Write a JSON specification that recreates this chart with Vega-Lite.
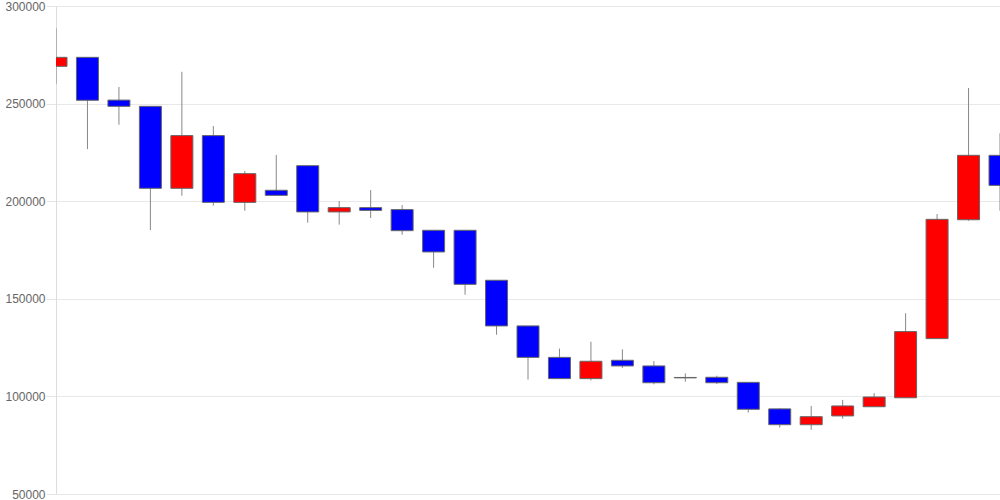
{
  "$schema": "https://vega.github.io/schema/vega-lite/v6.json",
  "width": 944,
  "height": 488,
  "autosize": "none",
  "padding": {"left": 56, "top": 6, "right": 0, "bottom": 6},
  "background": "white",
  "config": {"view": {"stroke": null}},
  "data": {"values": [
    {"i": 1, "open": 269100, "close": 273700, "high": 288600, "low": 260000},
    {"i": 2, "open": 273700, "close": 251700, "high": 273700, "low": 226700},
    {"i": 3, "open": 251800, "close": 248600, "high": 258500, "low": 239200},
    {"i": 4, "open": 248600, "close": 206600, "high": 248600, "low": 185200},
    {"i": 5, "open": 206600, "close": 233600, "high": 266300, "low": 202800},
    {"i": 6, "open": 233600, "close": 199400, "high": 238500, "low": 197700},
    {"i": 7, "open": 199400, "close": 214100, "high": 215500, "low": 195100},
    {"i": 8, "open": 205600, "close": 203000, "high": 223700, "low": 203000},
    {"i": 9, "open": 218200, "close": 194500, "high": 218200, "low": 189000},
    {"i": 10, "open": 194500, "close": 196700, "high": 200100, "low": 188000},
    {"i": 11, "open": 196700, "close": 195300, "high": 205700, "low": 191400},
    {"i": 12, "open": 195700, "close": 184900, "high": 198000, "low": 182800},
    {"i": 13, "open": 185100, "close": 174000, "high": 185100, "low": 165900},
    {"i": 14, "open": 185100, "close": 157400, "high": 185100, "low": 152100},
    {"i": 15, "open": 159500, "close": 136100, "high": 159500, "low": 131600},
    {"i": 16, "open": 136100, "close": 120000, "high": 136100, "low": 108600},
    {"i": 17, "open": 120000, "close": 109100, "high": 124500, "low": 109100},
    {"i": 18, "open": 109100, "close": 118000, "high": 128000, "low": 108200},
    {"i": 19, "open": 118500, "close": 115600, "high": 124100, "low": 114600},
    {"i": 20, "open": 115600, "close": 107000, "high": 118100, "low": 106200},
    {"i": 21, "open": 109700, "close": 109500, "high": 111800, "low": 107500},
    {"i": 22, "open": 109800, "close": 107000, "high": 110600, "low": 106400},
    {"i": 23, "open": 107200, "close": 93400, "high": 107200, "low": 91700},
    {"i": 24, "open": 93600, "close": 85500, "high": 93900, "low": 84000},
    {"i": 25, "open": 85500, "close": 89600, "high": 95100, "low": 82900},
    {"i": 26, "open": 90000, "close": 95100, "high": 98200, "low": 88600},
    {"i": 27, "open": 94700, "close": 99700, "high": 101700, "low": 94700},
    {"i": 28, "open": 99300, "close": 133200, "high": 142600, "low": 99300},
    {"i": 29, "open": 129600, "close": 190700, "high": 193400, "low": 129600},
    {"i": 30, "open": 190500, "close": 223500, "high": 258000, "low": 190000},
    {"i": 31, "open": 223500, "close": 208100, "high": 234800, "low": 195100}
  ]},
  "encoding": {
    "x": {"field": "i", "type": "quantitative", "scale": {"domain": [1, 31], "nice": false, "zero": false, "padding": 0}, "axis": null}
  },
  "layer": [
    {
      "mark": {"type": "rule", "color": "#888888", "strokeWidth": 1, "clip": true},
      "encoding": {
        "y": {"field": "low", "type": "quantitative",
          "scale": {"domain": [50000, 300000], "nice": false, "zero": false},
          "axis": {"title": null, "values": [50000, 100000, 150000, 200000, 250000, 300000], "format": "d",
            "labelFont": "Liberation Sans", "labelFontSize": 12, "labelColor": "#666666",
            "tickColor": "#e5e5e5", "tickSize": 10, "labelPadding": 1,
            "domainColor": "#dddddd", "gridColor": "#e8e8e8", "grid": true, "labelFlush": false}},
        "y2": {"field": "high"}
      }
    },
    {
      "mark": {"type": "bar", "width": 22, "clip": true, "stroke": "#666666", "strokeWidth": 1},
      "encoding": {
        "y": {"field": "open", "type": "quantitative"},
        "y2": {"field": "close"},
        "color": {"condition": {"test": "datum.close > datum.open", "value": "#ff0000"}, "value": "#0000ff"}
      }
    }
  ]
}
